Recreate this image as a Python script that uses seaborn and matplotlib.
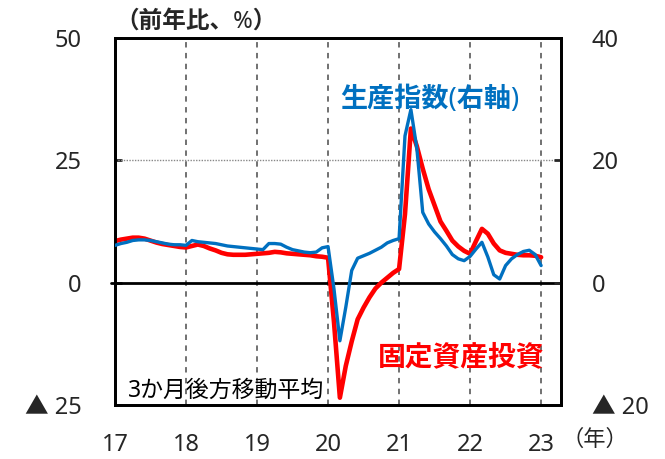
import numpy as np
import pandas as pd
import matplotlib
matplotlib.use("Agg")
import matplotlib.pyplot as plt
import seaborn as sns

# monthly points, Jan 2017 .. Jan 2023 (3-month trailing moving average)
dates = pd.date_range("2017-01-01", "2023-01-01", freq="MS")

# 固定資産投資 (left axis, % y/y)
fai = [
    8.5, 8.8, 9.0, 9.2, 9.2, 9.0, 8.6, 8.2, 7.9, 7.7, 7.5, 7.3,
    7.2, 7.5, 7.8, 7.5, 7.0, 6.6, 6.1, 5.8, 5.7, 5.7, 5.7, 5.8,
    5.9, 6.0, 6.1, 6.3, 6.2, 6.0, 5.9, 5.8, 5.7, 5.6, 5.4, 5.3,
    5.1, -8.0, -23.5, -17.0, -12.0, -7.5, -5.1, -3.0, -1.2, 0.0, 1.0, 2.0,
    2.8, 14.0, 31.5, 27.9, 23.3, 19.1, 15.8, 12.5, 10.6, 8.6, 7.4, 6.5,
    5.9, 8.5, 11.0, 10.0, 8.0, 6.6, 6.1, 5.9, 5.7, 5.6, 5.6, 5.5,
    5.2,
]

# 生産指数 (right axis, % y/y)
ip = [
    6.1, 6.4, 6.6, 6.9, 7.0, 7.0, 6.9, 6.7, 6.5, 6.3, 6.2, 6.2,
    6.1, 6.9, 6.7, 6.6, 6.5, 6.4, 6.2, 6.0, 5.9, 5.8, 5.7, 5.6,
    5.5, 5.4, 6.4, 6.4, 6.3, 5.8, 5.4, 5.2, 5.0, 4.9, 5.0, 5.7,
    5.9, -1.0, -9.5, -4.0, 2.0, 4.0, 4.4, 4.8, 5.3, 5.8, 6.5, 6.9,
    7.2, 24.0, 28.3, 22.0, 11.5, 9.6, 8.3, 7.2, 6.0, 4.6, 3.9, 3.6,
    4.3, 5.5, 6.6, 4.2, 1.3, 0.6, 2.8, 3.9, 4.6, 5.1, 5.3, 4.6,
    2.8,
]

year_ticks = [17, 18, 19, 20, 21, 22, 23]
year_labels = ["17", "18", "19", "20", "21", "22", "23"]
left_ticks = [-25, 0, 25, 50]
left_labels = ["▲ 25", "0", "25", "50"]
right_ticks = [-20, 0, 20, 40]
right_labels = ["▲ 20", "0", "20", "40"]

RED = "#FF0000"
BLUE = "#0070C0"

df = pd.DataFrame({
    "x": dates.year - 2000 + (dates.month - 1) / 12,
    "fai": fai,
    "ip": ip,
})

sns.set_style("white")
plt.rcParams["font.family"] = ["Noto Sans", "Noto Sans CJK JP", "DejaVu Sans"]

fig = plt.figure(figsize=(6.65, 4.59), dpi=100)
ax = fig.add_axes([0.1729, 0.1176, 0.6707, 0.7996])
ax2 = ax.twinx()

sns.lineplot(data=df, x="x", y="fai", ax=ax, color=RED, linewidth=3.3, zorder=3)
sns.lineplot(data=df, x="x", y="ip", ax=ax2, color=BLUE, linewidth=2.4, zorder=3)

ax.set_xlim(17, 23.28)
ax.set_ylim(-25, 50)
ax2.set_ylim(-20, 40)

# grid: dashed verticals at each year, dotted line at 25
for yr in year_ticks[1:]:
    ax.axvline(yr, color="#666666", linestyle=(0, (3, 3)), linewidth=1.3, zorder=1)
ax.axhline(25, color="#888888", linestyle=(0, (1, 1)), linewidth=1.0, zorder=1)
ax.axhline(0, color="black", linewidth=2.0, zorder=2, xmin=-0.008, clip_on=False)

for a in (ax, ax2):
    for sp in a.spines.values():
        sp.set_visible(True)
        sp.set_color("black")
        sp.set_linewidth(2.0)
    a.set_xlabel("")
    a.set_ylabel("")

ax.set_xticks(year_ticks)
ax.set_xticklabels(year_labels, fontsize=17)
ax.tick_params(axis="x", length=0, pad=20)

ax.set_yticks(left_ticks)
ax.set_yticklabels(left_labels, fontsize=17)
ax.tick_params(axis="y", direction="in", length=5, width=2, pad=24)

ax2.set_yticks(right_ticks)
ax2.set_yticklabels(right_labels, fontsize=17)
ax2.tick_params(axis="y", direction="in", length=5, width=2, pad=22)
for lab in ax2.get_yticklabels():
    lab.set_horizontalalignment("left")

fig.text(0.174, 0.952, "（前年比、%）", fontsize=17, fontweight="bold",
         ha="left", va="center")
fig.text(0.844, 0.040, "（年）", fontsize=16, ha="left", va="center")

ax.text(0.506, 0.832, "生産指数(右軸)", transform=ax.transAxes, color=BLUE,
        fontsize=19.5, fontweight="bold", ha="left", va="center")
ax.text(0.590, 0.128, "固定資産投資", transform=ax.transAxes, color=RED,
        fontsize=20, fontweight="bold", ha="left", va="center")
ax.text(0.028, 0.040, "3か月後方移動平均", transform=ax.transAxes, color="black",
        fontsize=16.5, ha="left", va="center")

fig.savefig("out.png", dpi=100)
